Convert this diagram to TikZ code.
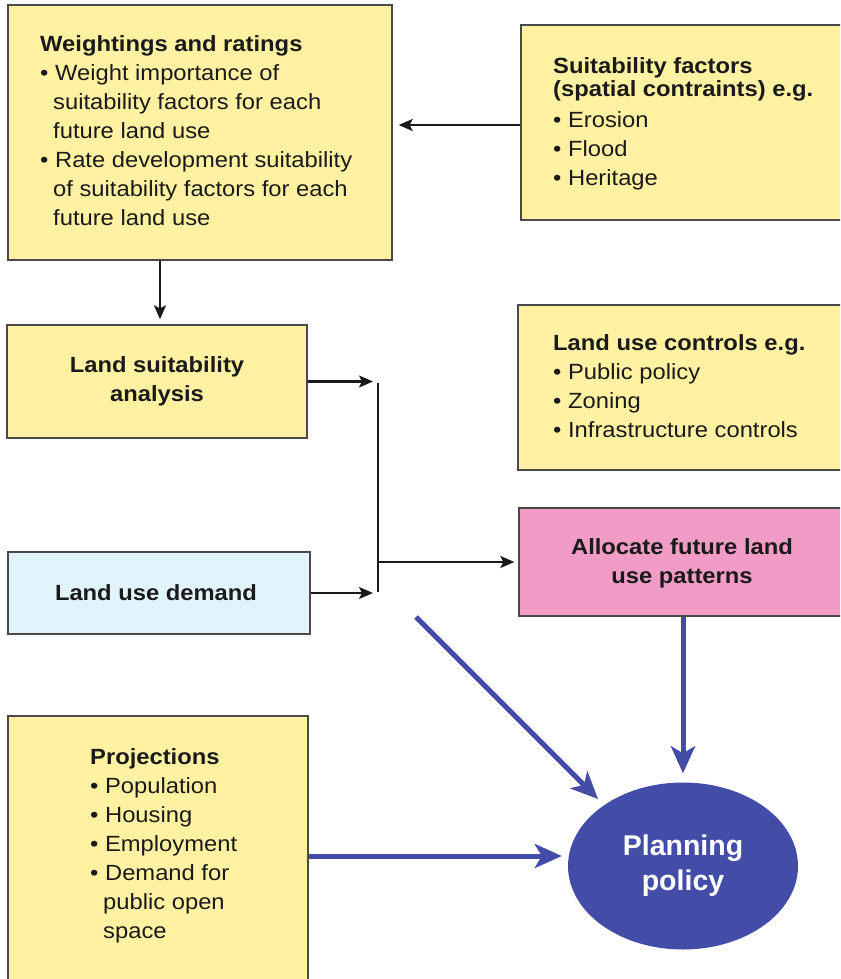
\documentclass[tikz,border=0pt]{standalone}
\usepackage{fontspec}
\setmainfont{Liberation Sans}[FakeStretch=1.08]
\newfontfamily\ppfont{Liberation Sans}
\usetikzlibrary{arrows.meta,shapes.geometric}
\definecolor{boxyellow}{HTML}{FEF2A2}
\definecolor{boxpink}{HTML}{F09CC6}
\definecolor{boxblue}{HTML}{E1F4FB}
\definecolor{polblue}{HTML}{434DA8}
\definecolor{edgegray}{HTML}{4A4A4A}
\definecolor{txtcol}{HTML}{1A1A1A}
\begin{document}
\begin{tikzpicture}[x=1pt,y=-1pt,
  panel/.style={draw=edgegray, line width=1.3pt, inner sep=0pt, rectangle},
  ytext/.style={inner sep=0pt, text=txtcol, align=left, anchor=west, font=\fontsize{22}{29}\selectfont},
  ctext/.style={inner sep=0pt, text=txtcol, align=center, font=\bfseries\fontsize{22}{29}\selectfont},
  blk/.style={line width=2.1pt, draw=txtcol, -{Stealth[length=14pt,width=12pt,inset=3pt]}},
  blu/.style={line width=5pt, draw=polblue, -{Stealth[length=27pt,width=24pt,inset=7pt]}}
]
\useasboundingbox (0,0) rectangle (840,979);
\clip (0,0) rectangle (840,979);
\fill[white] (0,0) rectangle (840,979);

% boxes
\node[panel, fill=boxyellow, minimum width=384pt, minimum height=255pt] (wr) at (200,132.5) {};
\node[panel, fill=boxyellow, minimum width=329pt, minimum height=195pt] (sf) at (685.5,122.5) {};
\node[panel, fill=boxyellow, minimum width=300pt, minimum height=113pt] (ls) at (157,381.5) {};
\node[panel, fill=boxyellow, minimum width=332pt, minimum height=165pt] (lc) at (684,387.5) {};
\node[panel, fill=boxpink, minimum width=331pt, minimum height=108pt] (al) at (684.5,562) {};
\node[panel, fill=boxblue, minimum width=302pt, minimum height=82pt] (ld) at (159,593) {};
\node[panel, fill=boxyellow, minimum width=300pt, minimum height=280pt] (pr) at (158,856) {};
\node[ellipse, fill=polblue, inner sep=0pt, minimum width=230pt, minimum height=167pt] (pp) at (683,866) {};

% texts
\node[ytext] (wrt) at (40,131) {{\bfseries Weightings and ratings}\\
\textbullet\ Weight importance of\\
\hspace*{13pt}suitability factors for each\\
\hspace*{13pt}future land use\\
\textbullet\ Rate development suitability\\
\hspace*{13pt}of suitability factors for each\\
\hspace*{13pt}future land use};

\node[ytext] (sft) at (553,124) {{\bfseries Suitability factors}\\[-6pt]
{\bfseries (spatial contraints) e.g.}\\[2pt]
\textbullet\ Erosion\\
\textbullet\ Flood\\
\textbullet\ Heritage};

\node[ctext] (lst) at (157,381) {Land suitability\\analysis};

\node[ytext] (lct) at (553,386.5) {{\bfseries Land use controls e.g.}\\
\textbullet\ Public policy\\
\textbullet\ Zoning\\
\textbullet\ Infrastructure controls};

\node[ctext] (alt) at (682,563) {Allocate future land\\use patterns};

\node[ctext] (ldt) at (156,593) {Land use demand};

\node[ytext] (prt) at (90,846) {{\bfseries Projections}\\
\textbullet\ Population\\
\textbullet\ Housing\\
\textbullet\ Employment\\
\textbullet\ Demand for\\
\hspace*{13pt}public open\\
\hspace*{13pt}space};

\node[inner sep=0pt, text=white, align=center, font=\ppfont\bfseries\fontsize{28.5}{35}\selectfont] (ppt) at (683,866) {Planning\\policy};

% black connectors
\coordinate (bt) at (378,381.5);
\coordinate (bb) at (378,593);
\draw[line width=2.1pt, draw=txtcol] ([yshift=-1pt]bt) -- ([yshift=1pt]bb);
\draw[blk, shorten >=6pt] ([yshift=-2.5pt]sf.west) -- ([yshift=-2.5pt]sf.west -| wr.east);
\draw[blk, shorten >=5pt] ([xshift=3pt]wr.south -| ls.north) -- ([xshift=3pt]ls.north);
\draw[blk, shorten >=5pt] (ls.east) -- (bt);
\draw[blk, shorten >=5pt] (ld.east) -- (bb);
\draw[blk, shorten >=4pt] (bt |- al.west) -- (al.west);

% blue connectors
\coordinate (dstart) at (416,617);
\coordinate (dtip) at (598,799);
\draw[blu] (dstart) -- (dtip);
\draw[blu, shorten >=9pt] (al.south -| pp.north) -- (pp.north);
\draw[blu, shorten >=6pt] (pr.east) -- (pr.east -| pp.west);
\end{tikzpicture}
\end{document}
